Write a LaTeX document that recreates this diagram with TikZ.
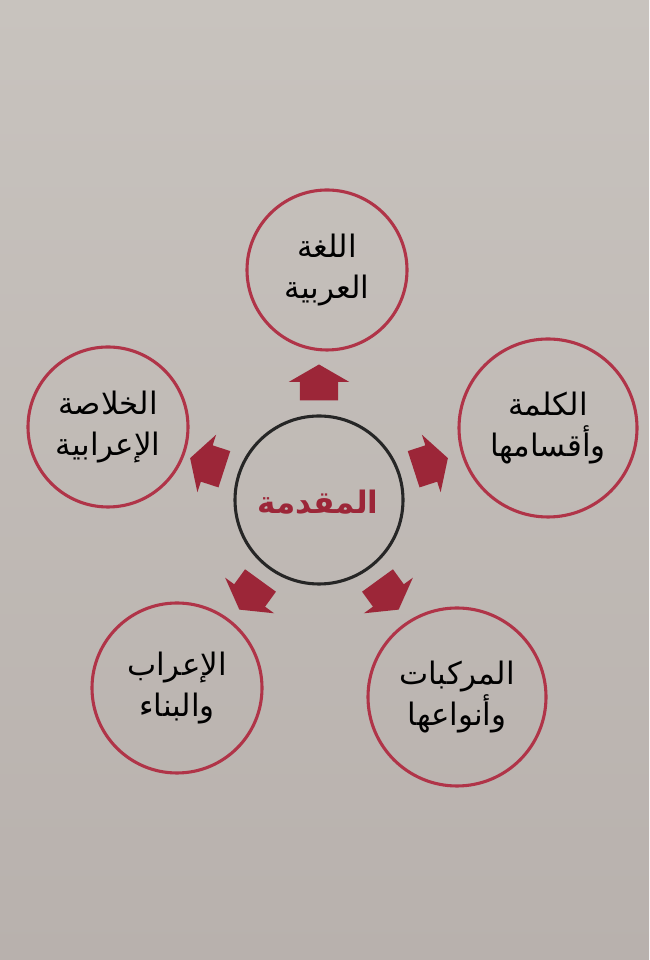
\documentclass[tikz,border=0pt]{standalone}
\usepackage{fontspec}
\newfontfamily\arabicfont[Script=Arabic]{DejaVu Sans}
\TeXXeTstate=1
\usetikzlibrary{shapes.arrows,calc}
\definecolor{papelA}{RGB}{200,195,190}
\definecolor{papelB}{RGB}{184,177,173}
\definecolor{bordo}{RGB}{176,52,72}
\definecolor{vinho}{RGB}{156,38,56}
\begin{document}
\begin{tikzpicture}
\tikzset{ inner sep=0pt, outer sep=0pt,
  circ/.style={circle, draw=bordo, line width=2.2pt, align=center,
    font=\arabicfont\fontsize{22}{29}\selectfont},
  seta/.style={single arrow, fill=vinho, inner xsep=0pt, inner ysep=0.47cm,
    minimum height=0.9cm, single arrow head extend=0.28cm, single arrow tip angle=120},
}

%\draw [lightgray, dashed](0,0) grid (16,24);

%%% Fundo
\shade[top color=papelA, bottom color=papelB] (0,0) rectangle (16.225,24);

%%% Circulos

% centro
\node [circle, draw=black!85, line width=2.2pt, minimum size=4.2cm] (CEN) at (7.975,11.5) { };
\node [text=vinho, font=\arabicfont\bfseries\fontsize{22}{26}\selectfont] (mqd) at (7.95,11.45) {\beginR المقدمة\endR};

% topo
\node [circ, minimum size=4.0cm] (LGA) at (8.175,17.25) {\beginR اللغة\endR\\\beginR العربية\endR};

% direita
\node [circ, minimum size=4.45cm] (KLM) at (13.7,13.3) {\beginR الكلمة\endR\\\beginR وأقسامها\endR};

% esquerda
\node [circ, minimum size=4.0cm] (KHL) at (2.7,13.325) {\beginR الخلاصة\endR\\\beginR الإعرابية\endR};

% baixo direita
\node [circ, minimum size=4.45cm] (MRK) at (11.425,6.575) {\beginR المركبات\endR\\\beginR وأنواعها\endR};

% baixo esquerda
\node [circ, minimum size=4.25cm] (IRB) at (4.425,6.8) {\beginR الإعراب\endR\\\beginR والبناء\endR};

%%% Setas
\node [seta, rotate=90]  (sLGA) at ($(CEN)+(90:2.8)$)  { };
\node [seta, rotate=18]  (sKLM) at ($(CEN)+(18:2.8)$)  { };
\node [seta, rotate=162] (sKHL) at ($(CEN)+(162:2.8)$) { };
\node [seta, rotate=306] (sMRK) at ($(CEN)+(306:2.8)$) { };
\node [seta, rotate=234] (sIRB) at ($(CEN)+(234:2.8)$) { };

\end{tikzpicture}
\end{document}
